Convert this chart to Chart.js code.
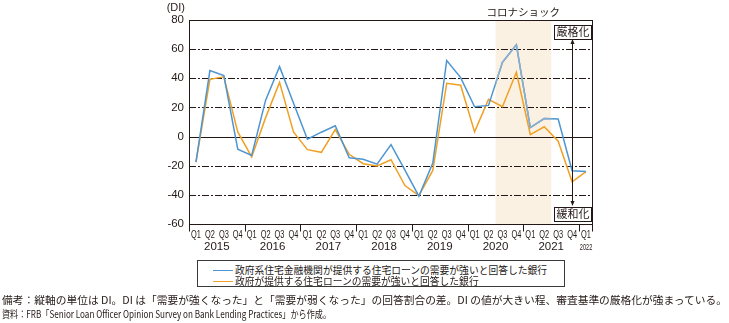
<!DOCTYPE html>
<html>
<head>
<meta charset="utf-8">
<script src="https://cdn.jsdelivr.net/npm/chart.js@4.4.1/dist/chart.umd.min.js"></script>
<style>
html,body{margin:0;padding:0;background:#fff;}
#wrap{position:relative;width:729px;height:323px;overflow:hidden;}
#c{position:absolute;left:0;top:0;}
.legend{position:absolute;left:197px;top:260px;width:368px;height:27px;border:1px solid #3a3a3a;box-sizing:border-box;background:#fff;}
.lrow{position:absolute;left:15px;height:11px;white-space:nowrap;font:10px 'Noto Sans CJK JP',sans-serif;color:#231815;line-height:11px;}
.lrow i{display:inline-block;width:20px;height:0;border-top:1.5px solid;vertical-align:middle;margin-right:2px;position:relative;top:-1px;}
.lrow span{display:inline-block;transform-origin:0 50%;}
.note{position:absolute;left:2px;white-space:nowrap;font:10.5px 'Noto Sans CJK JP',sans-serif;color:#231815;line-height:13px;}
.note span{display:inline-block;transform-origin:0 50%;}
</style>
</head>
<body>
<div id="wrap">
<canvas id="c" width="729" height="323"></canvas>
<div class="legend" id="legend"></div>
<div class="note" style="top:293px"><span id="n1">備考：縦軸の単位は DI。DI は「需要が強くなった」と「需要が弱くなった」の回答割合の差。DI の値が大きい程、審査基準の厳格化が強まっている。</span></div>
<div class="note" style="top:307px"><span id="n2">資料：FRB「Senior Loan Officer Opinion Survey on Bank Lending Practices」から作成。</span></div>
</div>
<script>
// ---- data ----
const quarters = ['Q1','Q2','Q3','Q4','Q1','Q2','Q3','Q4','Q1','Q2','Q3','Q4','Q1','Q2','Q3','Q4','Q1','Q2','Q3','Q4','Q1','Q2','Q3','Q4','Q1','Q2','Q3','Q4','Q1'];
const years = ['2015','2016','2017','2018','2019','2020','2021','2022'];
const seriesNames = ['政府系住宅金融機関が提供する住宅ローンの需要が強いと回答した銀行','政府が提供する住宅ローンの需要が強いと回答した銀行'];
const govAgencyDI = [-17.5,45.3,41.8,-8.7,-12.9,25,48,23,-1.8,3,7.4,-14.5,-15.6,-18.9,-5.5,-23,-40.9,-18.2,52.2,40.5,20.5,21.4,51,63,6.2,12.4,12,-23.4,-23.9];
const governmentDI = [-17.5,39.3,41,3.2,-14,13,37.2,3.2,-9,-10.8,4.8,-12.2,-18.6,-20.2,-15.9,-33.6,-40.5,-23.2,36.6,35.2,3.2,25.5,20.5,44.1,1.4,6.7,-3.2,-31,-24.1];
const yTicks = {min:-60, max:80, step:20};
const coronaRange = [22, 25]; // 2020Q3 - 2021Q2
const coronaLabel = 'コロナショック';
const tightLabel = '厳格化';
const easeLabel = '緩和化';
const unitLabel = '(DI)';

const INK = '#231815';
const BLUE = '#4E95D1';
const BLUE_SHADE = '#8DAECB';
const ORANGE = '#F0A024';

function line(ctx,x1,y1,x2,y2){ctx.beginPath();ctx.moveTo(x1,y1);ctx.lineTo(x2,y2);ctx.stroke();}

const decor = {
  id:'decor',
  bandX(chart){
    const x = chart.scales.x;
    const half = (x.getPixelForValue(1)-x.getPixelForValue(0))/2;
    return [x.getPixelForValue(coronaRange[0])-half, x.getPixelForValue(coronaRange[1])+half];
  },
  beforeDraw(chart){
    const {ctx, chartArea:a} = chart;
    const [x0,x1] = this.bandX(chart);
    ctx.save();
    ctx.fillStyle = '#FBF1E2';
    ctx.fillRect(x0, a.top, x1-x0, a.bottom-a.top);
    ctx.restore();
  },
  beforeDatasetsDraw(chart){
    const {ctx, chartArea:a, scales:{y}} = chart;
    ctx.save();
    ctx.strokeStyle = INK; ctx.lineWidth = 1;
    y.ticks.forEach(t=>{
      const py = Math.round(y.getPixelForValue(t.value))+0.5;
      if (t.value===yTicks.min || t.value===yTicks.max) return;
      ctx.setLineDash(t.value===0 ? [] : [7,2,2,2]);
      line(ctx, a.left, py, a.right, py);
    });
    ctx.restore();
  },
  afterDatasetsDraw(chart){
    const {ctx, chartArea:a} = chart;
    const [x0,x1] = this.bandX(chart);
    const meta = chart.getDatasetMeta(0);
    ctx.save();
    ctx.beginPath(); ctx.rect(x0, a.top, x1-x0, a.bottom-a.top); ctx.clip();
    ctx.strokeStyle = BLUE_SHADE; ctx.lineWidth = 1.5; ctx.lineJoin='round';
    ctx.beginPath();
    meta.data.forEach((p,i)=> i ? ctx.lineTo(p.x,p.y) : ctx.moveTo(p.x,p.y));
    ctx.stroke();
    ctx.restore();
  },
  afterDraw(chart){
    const {ctx, chartArea:a, scales:{x,y}} = chart;
    const L = Math.round(a.left)+0.5, R = Math.round(a.right)-0.5, T = Math.round(a.top)+0.5, B = Math.round(a.bottom)+0.5;
    ctx.save();
    ctx.strokeStyle = INK; ctx.lineWidth = 1; ctx.setLineDash([]);
    ctx.strokeRect(L, T, R-L, B-T);
    // year separators
    const step = x.getPixelForValue(1)-x.getPixelForValue(0);
    for (let i=0;i<=quarters.length;i+=4){
      const px = Math.round(x.getPixelForValue(0)-step/2 + i*step)+0.5;
      line(ctx, px, B, px, B+7);
    }
    line(ctx, R, B, R, B+7);
    // quarter labels (condensed)
    ctx.fillStyle = INK; ctx.textAlign='center'; ctx.textBaseline='middle';
    ctx.font = '10px "Liberation Sans", Arial, sans-serif';
    quarters.forEach((q,i)=>{
      ctx.save(); ctx.translate(x.getPixelForValue(i), 235); ctx.scale(0.74,1);
      ctx.fillText(q, 0, 0); ctx.restore();
    });
    // year labels
    years.forEach((yr,k)=>{
      const i0 = k*4, i1 = Math.min(k*4+3, quarters.length-1);
      const cx = (x.getPixelForValue(i0)+x.getPixelForValue(i1))/2;
      if (i1===i0){
        ctx.save(); ctx.translate(cx, 247.5); ctx.scale(0.62,1);
        ctx.font = '9px "Liberation Sans", Arial, sans-serif';
        ctx.fillText(yr, 0, 0); ctx.restore();
      } else {
        ctx.font = '11.5px "Liberation Sans", Arial, sans-serif';
        ctx.fillText(yr, cx, 247);
      }
    });
    // unit label
    ctx.font = '11px "Liberation Sans", Arial, sans-serif';
    ctx.textAlign='right';
    ctx.fillText(unitLabel, a.left-4, 8);
    // corona label
    const [x0,x1] = this.bandX(chart);
    ctx.textAlign='center';
    ctx.font = '10.5px "Noto Sans CJK JP", sans-serif';
    ctx.fillText(coronaLabel, (x0+x1)/2, 12.5);
    // arrow + boxes
    const ax = Math.round(a.right-21)+0.5;
    const yTop = a.top+20, yBot = a.bottom-19;
    line(ctx, ax, yTop, ax, yBot);
    ctx.beginPath(); ctx.moveTo(ax, yTop-1); ctx.lineTo(ax-2, yTop+4); ctx.lineTo(ax+2, yTop+4); ctx.closePath(); ctx.fill();
    ctx.beginPath(); ctx.moveTo(ax, yBot+1); ctx.lineTo(ax-2, yBot-4); ctx.lineTo(ax+2, yBot-4); ctx.closePath(); ctx.fill();
    const box = (txt, cy)=>{
      const w = 37, h = 14, bx = Math.round(ax-19)+0.5, by = Math.round(cy-h/2)+0.5;
      ctx.fillStyle = '#fff'; ctx.fillRect(bx, by, w, h);
      ctx.strokeRect(bx, by, w, h);
      ctx.fillStyle = INK; ctx.font = '11px "Noto Sans CJK JP", sans-serif';
      ctx.fillText(txt, bx+w/2, cy+0.5);
    };
    box(tightLabel, a.top+11.5);
    box(easeLabel, a.bottom-10.5);
    ctx.restore();
  }
};

const chart = new Chart(document.getElementById('c'), {
  type:'line',
  data:{
    labels: quarters,
    datasets:[
      {label:seriesNames[0], data:govAgencyDI, borderColor:BLUE, borderWidth:1.5, pointRadius:0, tension:0, fill:false},
      {label:seriesNames[1], data:governmentDI, borderColor:ORANGE, borderWidth:1.5, pointRadius:0, tension:0, fill:false}
    ]
  },
  options:{
    responsive:false, animation:false, devicePixelRatio:1,
    layout:{padding:{left:0, top:20, right:136, bottom:0}},
    plugins:{legend:{display:false}, tooltip:{enabled:false}},
    scales:{
      x:{
        type:'category', offset:true,
        grid:{display:false, drawTicks:false}, border:{display:false},
        ticks:{display:false, autoSkip:false},
        afterFit(s){ s.height = 99; }
      },
      y:{
        min:yTicks.min, max:yTicks.max,
        grid:{display:false, drawTicks:false}, border:{display:false},
        ticks:{stepSize:yTicks.step, padding:5, color:INK,
          font:{family:'"Liberation Sans", Arial, sans-serif', size:11.5}},
        afterFit(s){ s.width = 189; }
      }
    }
  },
  plugins:[decor]
});

// legend (HTML, from datasets)
const lg = document.getElementById('legend');
const rowSpans = [];
chart.data.datasets.forEach((ds,i)=>{
  const r = document.createElement('div');
  r.className='lrow'; r.style.top = (3 + i*11) + 'px';
  const mark = document.createElement('i'); mark.style.borderTopColor = ds.borderColor;
  const sp = document.createElement('span'); sp.textContent = ds.label;
  r.appendChild(mark); r.appendChild(sp); lg.appendChild(r);
  rowSpans.push(sp);
});
function fit(el, target){
  const w = el.getBoundingClientRect().width;
  if (w>0) el.style.transform = 'scaleX(' + (target/w) + ')';
}
const lw = rowSpans[0].getBoundingClientRect().width;
const lscale = 312/lw;
rowSpans.forEach(s=> s.style.transform = 'scaleX(' + lscale + ')');
fit(document.getElementById('n1'), 725);
fit(document.getElementById('n2'), 329);
</script>
</body>
</html>
